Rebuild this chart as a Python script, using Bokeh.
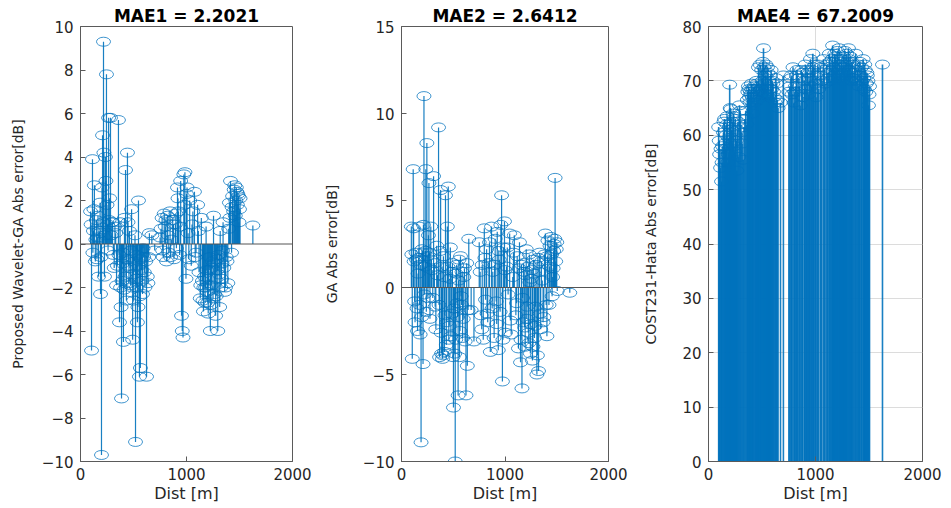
from bokeh.plotting import figure
from bokeh.layouts import row
from bokeh.models import Range1d, FixedTicker, Span, ColumnDataSource
from bokeh.embed import file_html
from bokeh.resources import INLINE

# ---------------- data ----------------
dist = [95, 104, 113, 122, 131, 140, 150, 160, 170, 180, 189, 198, 208, 217, 226, 235, 245, 255,
        265, 275, 283, 295, 310, 325, 340, 358, 368, 378, 387, 396, 405, 415, 425, 433, 443, 452,
        462, 472, 482, 492, 502, 514, 519, 528, 537, 547, 556, 565, 575, 585, 596, 608, 623, 636,
        650, 673, 700, 751, 770, 780, 790, 800, 812, 822, 833, 845, 858, 870, 882, 895, 905, 915,
        925, 935, 945, 953, 960, 967, 975, 985, 995, 1005, 1015, 1030, 1045, 1060, 1075, 1090,
        1105, 1118, 1130, 1140, 1150, 1160, 1164, 1175, 1185, 1195, 1205, 1215, 1225, 1235, 1245,
        1255, 1265, 1275, 1285, 1295, 1308, 1318, 1324, 1335, 1345, 1360, 1375, 1390, 1405, 1415,
        1425, 1435, 1445, 1455, 1465, 1475, 1484, 1495, 1505, 1626,
        100, 117, 127, 145, 155, 165, 175, 185, 194, 203,
        212, 221, 231, 240, 250, 260, 270,
        289, 302, 318, 332, 348,
        363, 373, 383, 392, 401, 410, 420,
        438, 448, 457, 467, 477, 487, 497,
        508, 524, 533, 542, 551, 560, 570, 580, 590,
        602, 615, 630, 643,
        760, 775, 806, 827, 850, 876, 900, 920, 940,
        980, 1000,
        1022, 1052, 1082, 1112, 1135,
        1155, 1170, 1180, 1190, 1200, 1210, 1220, 1230, 1240, 1250,
        1260, 1270, 1280, 1290, 1300,
        1313, 1330, 1340, 1352, 1368, 1382, 1398,
        1410, 1430, 1450, 1460, 1470, 1480, 1490, 1500]

err_wavelet_ga = [1.5, -4.9, 3.9, 0.6, 2.7, -0.8, 1.1, 0.3, -1.5, 0.5, -2.3, -9.7, 5.0, 9.3, -1.5, 4.0, 7.8, 0.9,
                  5.8, 2.1, 5.8, 1.0, -0.5, 0.8, -1.9, 5.7, -3.6, -2.0, -7.1, -0.9, -4.5, 1.2, 3.4, -2.6, 4.2, -1.0,
                  0.6, -1.9, 1.6, -4.4, -2.6, 0.4, -9.1, -2.0, -3.6, 2.0, -6.1, -5.7, -1.2, -2.3, -0.6, -2.0, -6.1, -1.8,
                  0.5, 0.4, -0.3, 0.3, 1.2, -0.6, 1.4, 0.8, -0.8, 1.3, -0.4, 1.5, 0.2, 1.1, -0.7, 0.9, -0.2, 2.6,
                  1.5, -0.5, 2.9, -3.3, -4.0, -4.3, 3.2, 3.3, -1.6, 2.6, 0.5, 2.0, -1.0, 1.5, 2.4, -0.4,
                  1.8, -1.3, -2.5, 1.2, -1.7, -3.1, -2.0, -2.7, 0.8, -2.2, -3.2, -1.2, -4.0, -1.9, -0.8,
                  1.3, -2.3, -3.3, -0.7, -4.0, -1.4, 0.6, -2.0, -0.9, 1.0, -2.2, -0.6, -1.8, 1.9, 2.9,
                  -0.4, 2.2, 1.5, 2.7, 2.0, 2.4, 2.3, 1.0, 2.1, 0.85,
                  0.9, -0.4, 1.6, 0.2, -0.7, 1.3, 0.6, 1.9, -0.6, 2.6,
                  1.0, 4.2, 0.4, 2.9, 1.8, -0.3, 1.1,
                  0.4, 1.0, -1.1, 0.5, -1.0,
                  -0.5, 1.0, -2.9, -1.7, -0.4, -2.1, -1.5,
                  -0.7, 1.0, -1.8, -1.1, -0.3, -2.0, -1.4,
                  -0.8, -1.6, -0.5, -2.9, -1.0, -2.4, -0.7, -1.7, -0.2,
                  -1.3, -0.8, -1.5, -0.6,
                  0.7, -0.3, 1.1, 0.4, -0.6, 0.9, 1.4, 2.1, 0.8,
                  1.8, 2.3,
                  -0.7, 0.9, -0.6, 0.6, -1.9,
                  -2.6, -1.5, -2.0, -1.2, -2.7, -1.9, -0.6, -2.8, -1.1, -2.5,
                  -0.9, -1.6, -2.4, -1.2, -0.5,
                  -2.9, -1.6, -0.3, -1.1, -2.0, -0.8, 0.7,
                  1.2, 1.7, 2.5, 1.3, 2.6, 1.8, 2.2, 1.6]

err_ga = [3.5, -4.1, 6.8, 1.5, -2.0, 2.0, -1.2, 0.8, 3.5, -2.7, -8.9, 2.2, -4.4, 11.0, 1.2, 6.8, 8.3, -0.6,
          6.0, -1.8, 3.5, 1.0, 6.4, -1.1, 2.4, 9.2, -4.0, 5.6, -3.8, -4.1, 1.8, -3.7, 5.3, -3.3, 3.5, 5.8,
          -2.2, 2.3, -1.5, 1.4, -6.9, -3.8, -10.0, 0.8, -0.9, -6.2, 1.6, -2.5, -0.5, 0.9, -1.8, 1.1, -6.2, -4.5,
          2.8, -1.3, -3.1, 2.6, -1.6, 1.3, -3.0, 3.4, -0.7, 2.2, -2.0, 1.4, -3.7, 3.5, 0.9, -2.9, 2.8, -0.8,
          3.2, -3.6, 1.6, -1.4, 3.6, 5.3, -5.4, 2.3, 3.8, -2.6, 1.2, -0.4, 3.1, -2.7, 0.6, 3.0,
          -1.6, 1.8, -3.5, 2.6, -4.3, 1.3, -5.8, -2.0, 0.9, -3.4, 2.2, -1.1, -2.6, 1.9, -3.8,
          0.5, -4.2, 1.6, -2.9, -1.1, -5.0, 1.7, -4.8, 2.0, -2.4, 0.4, -1.7, 3.1, -2.8, 2.7,
          -1.0, 2.4, 2.9, -0.5, 1.1, 2.5, 6.3, 2.2, -0.2, -0.3,
          1.9, 3.4, -0.8, 1.6, -2.5, 1.7, -1.0, 1.3, -1.7, 2.0,
          3.6, -0.4, 2.1, -1.4, 1.8, 3.0, 2.0,
          1.6, -0.6, 1.4, -2.4, 0.7,
          -1.0, 2.1, -2.6, 1.2, -3.9, 0.6, -1.6,
          -2.0, 1.2, -3.0, 0.5, -2.8, 0.9, -4.0,
          -1.2, -3.0, 1.3, -1.7, 0.4, -4.0, 1.8, -1.0, -2.9,
          0.6, -3.1, 1.4, -1.3,
          0.9, -2.4, 1.7, -1.5, 2.6, -1.2, 1.3, -2.1, 2.1,
          -3.0, 1.0,
          2.3, -1.9, 2.0, -0.9, 1.1,
          -3.0, -0.6, 1.4, -2.3, 0.7, -1.8, 1.2, -3.2, 0.3, -2.1,
          1.0, -3.4, 0.8, -2.2, 1.3,
          -3.9, 0.9, -1.5, 1.5, -2.0, 1.9, -1.0,
          1.8, 1.2, 1.9, 0.6, 2.1, 2.8, 1.5, 2.6]

err_cost231 = [61.5, 56.5, 54.0, 51.5, 58.0, 60.5, 63.0, 57.5, 62.0, 55.0, 59.5, 69.3, 64.8, 61.0, 58.5, 63.5, 57.0, 60.0,
               53.5, 62.5, 56.0, 64.5, 60.5, 55.5, 63.0, 62.0, 68.0, 68.5, 66.0, 67.5, 68.5, 64.0, 69.0, 67.0, 68.5, 69.5,
               66.5, 68.0, 73.0, 68.5, 70.0, 76.0, 72.5, 67.5, 73.0, 69.0, 71.5, 67.0, 68.5, 72.0, 70.0, 68.0, 66.0, 69.5,
               65.0, 66.0, 71.0, 68.0, 70.5, 67.5, 72.5, 66.0, 69.0, 71.0, 68.0, 70.5, 65.5, 72.0, 67.0, 70.0, 73.0, 68.5,
               71.5, 67.5, 70.0, 74.0, 69.0, 72.0, 75.0, 70.0, 73.0, 67.0, 71.0, 68.5, 72.5, 70.0, 74.0, 69.5,
               73.0, 71.5, 75.0, 70.0, 72.0, 76.5, 73.5, 71.0, 74.5, 72.5, 75.5, 70.5, 73.0, 71.5, 74.0,
               70.0, 72.5, 75.5, 71.0, 73.5, 76.0, 72.0, 74.5, 70.0, 73.0, 71.5, 75.0, 72.0, 69.0, 73.5,
               71.0, 70.0, 74.0, 68.5, 72.0, 69.5, 71.0, 65.5, 69.0, 73.0,
               59.0, 57.5, 55.0, 62.5, 58.5, 60.0, 63.5, 56.5, 61.5, 65.0,
               60.5, 62.5, 64.0, 58.0, 63.0, 59.0, 61.0,
               65.5, 62.0, 58.5, 61.5, 64.5,
               66.5, 69.0, 67.0, 68.0, 69.5, 67.0, 68.5,
               66.0, 70.0, 68.0, 72.5, 69.0, 67.5, 72.0,
               73.5, 69.5, 71.0, 68.5, 72.5, 70.0, 67.5, 71.0, 68.5,
               69.5, 67.0, 70.5, 66.5,
               69.0, 71.0, 68.0, 72.0, 69.0, 71.5, 68.5, 72.0, 70.5,
               72.5, 69.5,
               73.0, 71.0, 72.0, 70.5, 73.5,
               74.0, 72.5, 75.0, 71.5, 74.0, 72.0, 76.0, 71.0, 73.5, 72.5,
               74.5, 71.5, 73.0, 75.0, 72.0,
               74.0, 71.5, 73.5, 70.5, 72.5, 70.0, 73.0,
               71.0, 72.5, 70.5, 73.0, 68.0, 71.5, 70.0, 67.5]

assert len(dist) == len(err_wavelet_ga) == len(err_ga) == len(err_cost231)

titles = ["MAE1 = 2.2021", "MAE2 = 2.6412", "MAE4 = 67.2009"]
ylabels = ["Proposed Wavelet-GA Abs error[dB]", "GA Abs error[dB]", "COST231-Hata Abs error[dB]"]
xlabel = "Dist [m]"
x_ticks = [0, 1000, 2000]
y_ticks_list = [[-10, -8, -6, -4, -2, 0, 2, 4, 6, 8, 10],
                [-10, -5, 0, 5, 10, 15],
                [0, 10, 20, 30, 40, 50, 60, 70, 80]]
y_ranges = [(-10, 10), (-10, 15), (0, 80)]
series = [err_wavelet_ga, err_ga, err_cost231]

# ---------------- styling ----------------
BLUE = "#0072BD"
FONT = "DejaVu Sans"
AX = "#5a5a5a"
TXT = "#262626"

# (width, left border, right border, y-label standoff)
geom = [(320, 80, 28, 13), (310, 75, 22, 20), (321, 78, 29, 20)]
H = 506


def make_panel(i):
    w, bl, br, lso = geom[i]
    p = figure(width=w, height=H, output_backend="svg", toolbar_location=None,
               x_range=Range1d(0, 2000), y_range=Range1d(*y_ranges[i]),
               min_border_left=bl, min_border_right=br, min_border_top=26, min_border_bottom=45,
               background_fill_color="white", border_fill_color="white")
    p.outline_line_color = AX
    p.outline_line_width = 1

    p.title.text = titles[i]
    p.title.align = "center"
    p.title.text_font = FONT
    p.title.text_font_style = "bold"
    p.title.text_font_size = "17px"
    p.title.text_color = "black"
    p.title.standoff = 2

    for ax in (p.xaxis[0], p.yaxis[0]):
        ax.axis_line_color = AX
        ax.major_tick_line_color = AX
        ax.major_tick_in = 5
        ax.major_tick_out = 0
        ax.minor_tick_line_color = None
        ax.major_label_text_font = FONT
        ax.major_label_text_font_size = "15px"
        ax.major_label_text_color = TXT
        ax.axis_label_text_font = FONT
        ax.axis_label_text_font_style = "normal"
        ax.axis_label_text_color = TXT
    p.xaxis.ticker = FixedTicker(ticks=x_ticks)
    p.yaxis.ticker = FixedTicker(ticks=y_ticks_list[i])
    p.xaxis.axis_label = xlabel
    p.xaxis.axis_label_text_font_size = "16px"
    p.xaxis.axis_label_standoff = 1
    p.xaxis.major_label_standoff = 6
    p.yaxis.axis_label = ylabels[i]
    p.yaxis.axis_label_text_font_size = "14px"
    p.yaxis.axis_label_standoff = lso
    p.yaxis.major_label_standoff = 7

    if i == 2:
        p.grid.grid_line_color = "#dcdcdc"
        p.grid.grid_line_width = 1
        p.xgrid.ticker = FixedTicker(ticks=x_ticks)
        p.ygrid.ticker = FixedTicker(ticks=y_ticks_list[i])
    else:
        p.grid.grid_line_color = None

    src = ColumnDataSource(dict(d=dist, v=series[i], z=[0] * len(dist)))
    p.segment(x0="d", y0="z", x1="d", y1="v", source=src, line_color=BLUE,
              line_width=1.6 if i == 2 else 1.2, line_alpha=0.9)
    if i != 2:
        p.add_layout(Span(location=0, dimension="width", line_color="#555555", line_width=1))
    p.ellipse(x="d", y="v", width=14, height=9, width_units="screen", height_units="screen",
              source=src, fill_color=None, line_color=BLUE, line_width=1, line_alpha=0.75)
    return p


panels = [make_panel(i) for i in range(3)]
layout = row(*panels)

open("out.html", "w").write(file_html(layout, INLINE))
